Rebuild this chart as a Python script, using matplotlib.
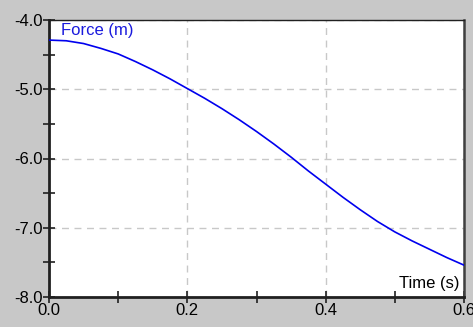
import matplotlib
matplotlib.use("Agg")
import matplotlib.pyplot as plt
from matplotlib.ticker import MultipleLocator, FormatStrFormatter

# ── Données ──────────────────────────────────────────────────────────────────
time_s = [0.0, 0.025, 0.05, 0.075, 0.1, 0.125, 0.15, 0.175, 0.2, 0.225, 0.25,
          0.275, 0.3, 0.325, 0.35, 0.375, 0.4, 0.425, 0.45, 0.475, 0.5,
          0.525, 0.55, 0.575, 0.6]
force_m = [-4.29, -4.30, -4.34, -4.41, -4.49, -4.60, -4.72, -4.85, -4.99,
           -5.13, -5.28, -5.44, -5.61, -5.79, -5.98, -6.18, -6.37, -6.56,
           -6.74, -6.91, -7.06, -7.19, -7.31, -7.43, -7.54]

BG = "#c8c8c8"
AXC = "#202020"

plt.rcParams["font.family"] = ["Liberation Sans", "DejaVu Sans"]

fig = plt.figure(figsize=(4.73, 3.27), dpi=100, facecolor=BG)
ax = fig.add_axes([49 / 473, 30 / 327, 415 / 473, 277 / 327])
ax.set_facecolor("white")

ax.plot(time_s, force_m, color="#0000ee", lw=1.2, zorder=3)

ax.set_xlim(0, 0.6)
ax.set_ylim(-8, -4)

ax.xaxis.set_major_locator(MultipleLocator(0.2))
ax.xaxis.set_minor_locator(MultipleLocator(0.1))
ax.yaxis.set_major_locator(MultipleLocator(1.0))
ax.yaxis.set_minor_locator(MultipleLocator(0.5))
ax.xaxis.set_major_formatter(FormatStrFormatter("%.1f"))
ax.yaxis.set_major_formatter(FormatStrFormatter("%.1f"))

ax.grid(True, which="major", color="#c8c8c8", ls=(0, (5, 4)), lw=1)
ax.tick_params(which="both", direction="inout", length=9, width=1.2,
               color=AXC, labelsize=12, pad=0, top=False, right=False)

for side in ("left", "bottom"):
    ax.spines[side].set_linewidth(2)
    ax.spines[side].set_color(AXC)
ax.spines["top"].set_linewidth(1)
ax.spines["top"].set_color(AXC)
ax.spines["right"].set_linewidth(1.8)
ax.spines["right"].set_color("#404040")

ax.text(0.03, 0.99, "Force (m)", transform=ax.transAxes, color="#1a1add",
        fontsize=12, ha="left", va="top")
ax.text(0.99, 0.02, "Time (s)", transform=ax.transAxes, color="black",
        fontsize=12, ha="right", va="bottom")

fig.savefig("out.png", dpi=100, facecolor=BG)
